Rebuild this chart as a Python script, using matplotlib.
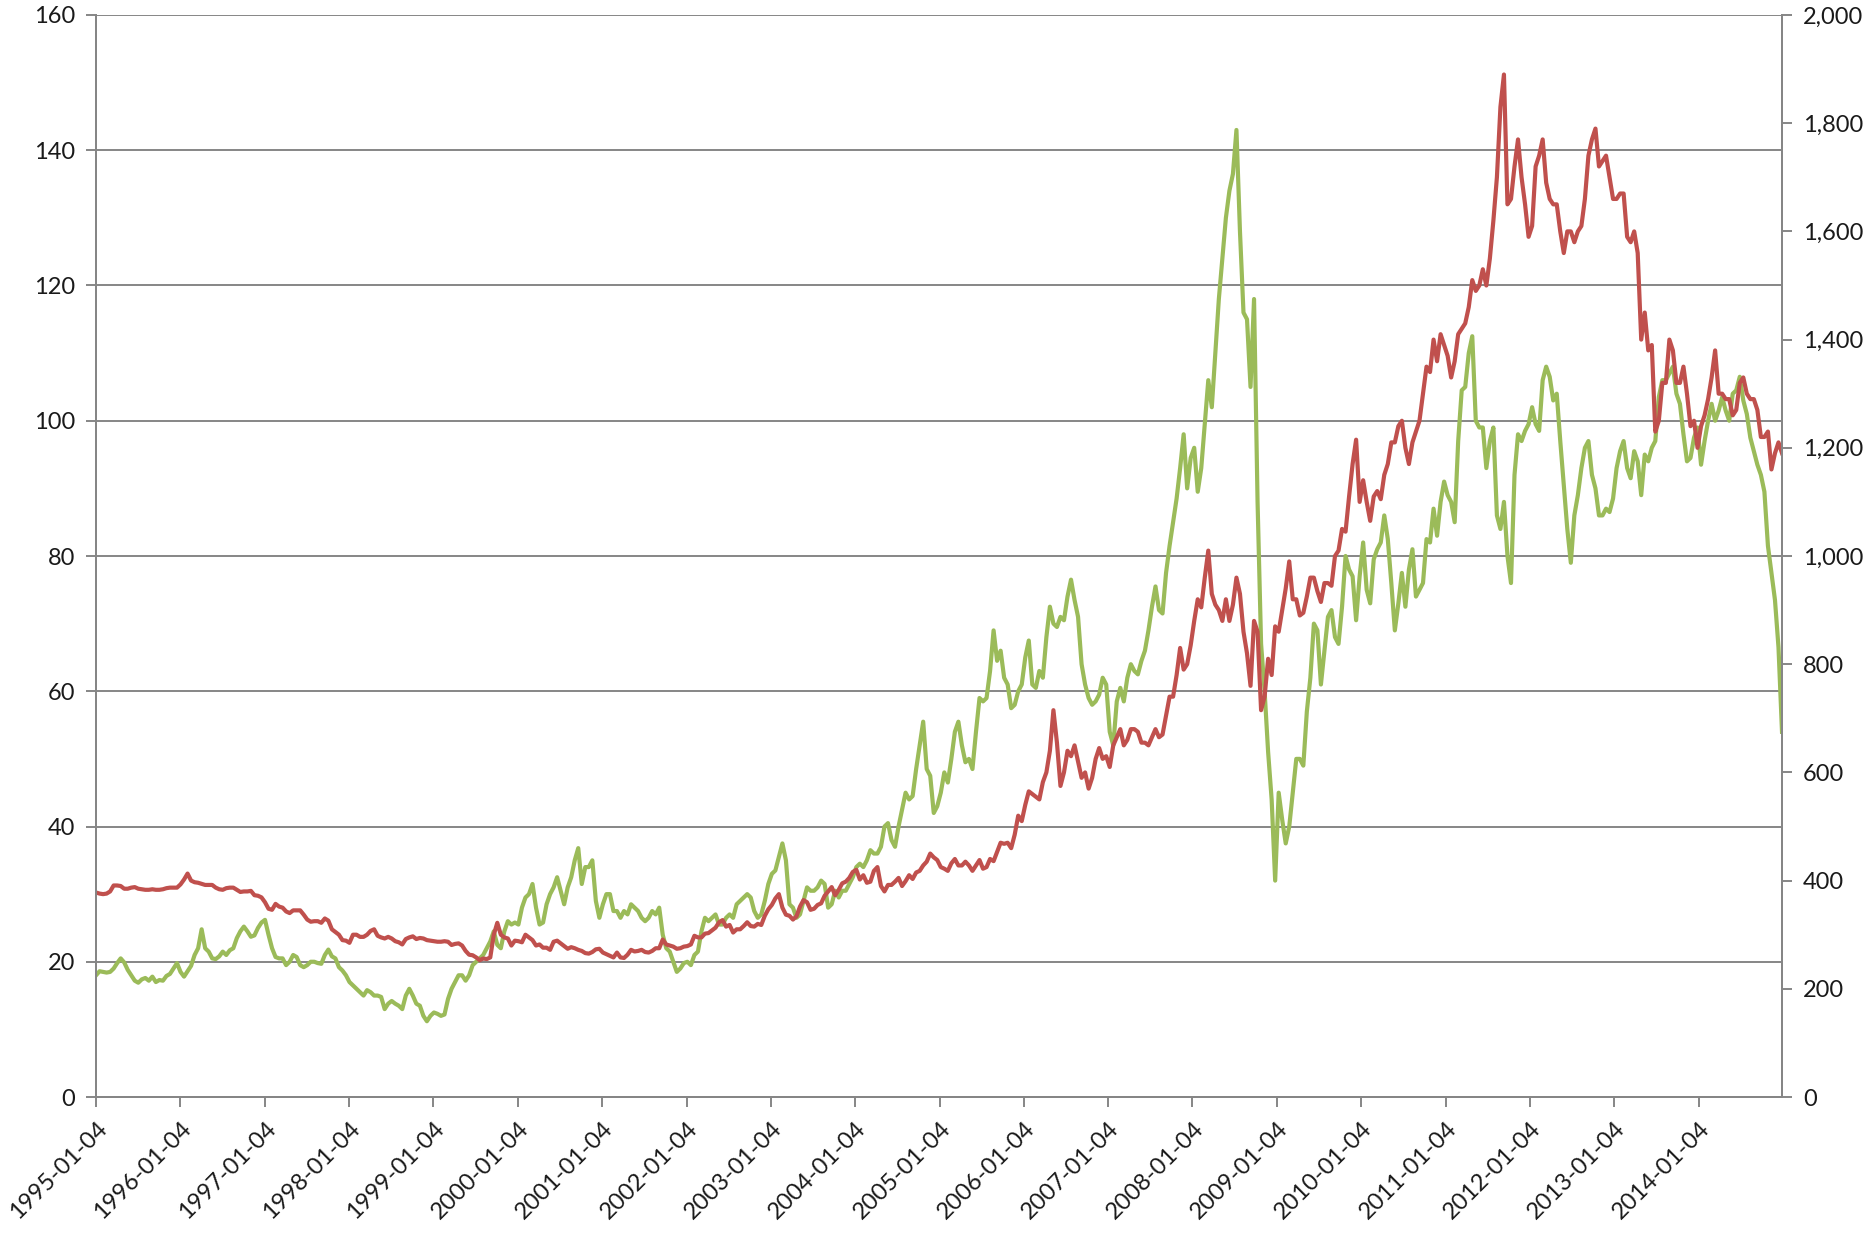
import matplotlib
matplotlib.use('Agg')
import matplotlib.pyplot as plt
import matplotlib.dates as mdates
from matplotlib.ticker import FuncFormatter, MultipleLocator
import pandas as pd

# ─── data (two readings per month, Jan 1995 .. Dec 2014) ─────────────────────

start_date = '1995-01-04'
end_date = '2014-12-31'

oil = [
    18.0, 18.6, 18.5, 18.4, 18.5, 19.0, 19.8, 20.5, 19.9, 18.8, 18.0, 17.2, 16.9, 17.4, 17.6, 17.2, 17.8, 17.0, 17.3, 17.2, 17.9, 18.2, 19.0, 19.8,
    18.5, 17.8, 18.6, 19.4, 21.0, 22.0, 24.8, 22.0, 21.5, 20.5, 20.4, 20.8, 21.5, 21.0, 21.7, 22.0, 23.5, 24.5, 25.2, 24.5, 23.7, 23.9, 25.0, 25.8,
    26.2, 24.0, 22.0, 20.7, 20.5, 20.5, 19.5, 20.0, 21.0, 20.7, 19.5, 19.2, 19.5, 20.0, 20.0, 19.8, 19.7, 21.0, 21.8, 20.8, 20.5, 19.2, 18.7, 18.0,
    17.0, 16.5, 16.0, 15.5, 15.0, 15.8, 15.5, 15.0, 15.0, 14.8, 13.0, 13.8, 14.2, 13.8, 13.5, 13.0, 15.0, 16.0, 15.0, 13.8, 13.5, 12.0, 11.2, 12.0,
    12.5, 12.3, 12.0, 12.2, 14.5, 16.0, 17.0, 18.0, 18.0, 17.2, 18.0, 19.5, 20.0, 20.5, 21.0, 22.0, 23.0, 24.5, 22.5, 22.0, 24.5, 26.0, 25.5, 25.8,
    25.5, 28.0, 29.5, 30.0, 31.5, 28.0, 25.5, 25.8, 28.5, 30.0, 31.0, 32.5, 30.5, 28.5, 31.0, 32.5, 35.0, 36.8, 31.5, 34.0, 34.0, 35.0, 29.0, 26.5,
    28.5, 30.0, 30.0, 27.5, 27.5, 26.5, 27.5, 27.0, 28.5, 28.0, 27.5, 26.5, 26.0, 26.5, 27.5, 27.0, 28.0, 24.0, 22.0, 21.5, 20.0, 18.5, 19.0, 19.8,
    20.0, 19.5, 21.0, 21.5, 24.5, 26.5, 26.0, 26.5, 27.0, 25.5, 25.5, 26.5, 27.0, 26.5, 28.5, 29.0, 29.5, 30.0, 29.5, 27.5, 26.5, 27.0, 29.0, 31.5,
    33.0, 33.5, 35.5, 37.5, 35.0, 28.5, 28.0, 26.5, 27.0, 29.0, 31.0, 30.5, 30.5, 31.0, 32.0, 31.5, 28.0, 28.5, 30.5, 29.5, 30.5, 30.5, 31.5, 32.5,
    34.0, 34.5, 34.0, 35.0, 36.5, 36.0, 36.0, 37.0, 40.0, 40.5, 38.0, 37.0, 40.0, 42.5, 45.0, 44.0, 44.5, 48.5, 52.0, 55.5, 48.5, 47.5, 42.0, 43.0,
    45.0, 48.0, 46.5, 50.0, 54.0, 55.5, 52.0, 49.5, 50.0, 48.5, 54.0, 59.0, 58.5, 59.0, 63.0, 69.0, 64.5, 66.0, 62.0, 61.0, 57.5, 58.0, 60.0, 61.0,
    65.0, 67.5, 61.0, 60.5, 63.0, 62.0, 68.0, 72.5, 70.0, 69.5, 71.0, 70.5, 74.0, 76.5, 73.5, 71.0, 64.0, 61.0, 59.0, 58.0, 58.5, 59.5, 62.0, 61.0,
    54.0, 52.0, 58.5, 60.5, 58.5, 62.0, 64.0, 63.0, 62.5, 64.5, 66.0, 69.0, 72.5, 75.5, 72.0, 71.5, 77.5, 81.5, 85.0, 88.5, 93.0, 98.0, 90.0, 94.5,
    96.0, 89.5, 93.0, 99.5, 106.0, 102.0, 110.0, 118.0, 124.0, 130.0, 134.0, 136.5, 143.0, 128.0, 116.0, 115.0, 105.0, 118.0, 88.0, 67.0, 60.0, 51.0, 44.0, 32.0,
    45.0, 41.0, 37.5, 40.0, 45.0, 50.0, 50.0, 49.0, 57.0, 62.0, 70.0, 69.0, 61.0, 66.0, 71.0, 72.0, 68.0, 67.0, 72.5, 80.0, 78.0, 77.0, 70.5, 77.0,
    82.0, 75.0, 73.0, 79.5, 81.0, 82.0, 86.0, 82.5, 76.0, 69.0, 73.0, 77.5, 72.5, 78.0, 81.0, 74.0, 75.0, 76.0, 82.5, 82.0, 87.0, 83.0, 88.0, 91.0,
    89.0, 88.0, 85.0, 97.0, 104.5, 105.0, 110.0, 112.5, 100.0, 99.0, 99.0, 93.0, 97.0, 99.0, 86.0, 84.0, 88.0, 80.0, 76.0, 92.0, 98.0, 97.0, 98.5, 99.5,
    102.0, 99.5, 98.5, 106.0, 108.0, 106.5, 103.0, 104.0, 97.0, 90.5, 84.0, 79.0, 86.0, 89.0, 93.0, 96.0, 97.0, 92.0, 90.0, 86.0, 86.0, 87.0, 86.5, 88.5,
    93.0, 95.5, 97.0, 93.0, 91.5, 95.5, 94.0, 89.0, 95.0, 94.0, 96.0, 97.0, 103.5, 106.0, 106.0, 107.0, 108.0, 104.0, 102.5, 98.0, 94.0, 94.5, 97.5, 99.0,
    93.5, 97.0, 100.0, 102.5, 100.0, 101.5, 103.5, 101.5, 100.0, 104.0, 104.5, 106.5, 103.0, 101.0, 97.5, 95.5, 93.5, 92.0, 89.5, 81.5, 77.5, 73.5, 66.5, 54.0,
]

gold = [
    378, 376, 375, 376, 380, 391, 391, 390, 385, 385, 387, 388, 385, 384, 383, 383, 384, 383, 383, 384, 386, 387, 387, 387,
    393, 402, 413, 400, 397, 396, 394, 392, 392, 392, 387, 384, 383, 386, 387, 387, 383, 379, 380, 380, 381, 373, 372, 369,
    360, 348, 346, 357, 352, 350, 343, 340, 345, 345, 345, 337, 328, 324, 325, 325, 322, 330, 326, 310, 305, 300, 290, 289,
    285, 300, 300, 296, 296, 300, 307, 310, 298, 295, 293, 296, 293, 288, 286, 282, 292, 295, 297, 292, 294, 293, 290, 289,
    288, 287, 287, 288, 287, 281, 283, 284, 280, 270, 263, 262, 258, 253, 256, 255, 258, 300, 322, 300, 295, 293, 280, 289,
    288, 286, 300, 295, 290, 280, 282, 276, 276, 272, 287, 289, 284, 279, 274, 277, 275, 272, 270, 266, 265, 268, 273, 274,
    267, 264, 261, 258, 267, 258, 257, 263, 272, 269, 270, 272, 268, 267, 270, 275, 275, 291, 282, 280, 278, 274, 275, 278,
    279, 282, 298, 295, 295, 302, 303, 308, 313, 323, 327, 315, 318, 304, 310, 310, 316, 323, 316, 315, 320, 318, 335, 347,
    355, 367, 375, 350, 337, 335, 328, 334, 352, 364, 360, 346, 348, 355, 358, 372, 380, 388, 373, 383, 395, 398, 405, 416,
    420, 402, 410, 396, 398, 418, 425, 390, 380, 392, 392, 398, 405, 390, 399, 410, 403, 415, 418, 428, 435, 450, 443, 438,
    425, 422, 418, 432, 440, 428, 428, 435, 428, 418, 428, 438, 422, 425, 440, 436, 453, 470, 468, 470, 460, 485, 520, 510,
    540, 565, 560, 555, 550, 582, 600, 640, 715, 655, 575, 600, 640, 630, 650, 620, 590, 600, 570, 590, 625, 645, 625, 630,
    610, 650, 665, 680, 650, 660, 680, 680, 675, 655, 655, 650, 665, 680, 665, 670, 705, 740, 740, 780, 830, 790, 800, 835,
    880, 920, 905, 960, 1010, 930, 910, 900, 880, 920, 880, 910, 960, 930, 860, 820, 760, 880, 860, 715, 740, 810, 780, 870,
    860, 900, 940, 990, 920, 920, 890, 895, 925, 960, 960, 935, 915, 950, 950, 945, 1000, 1010, 1050, 1045, 1110, 1170, 1215, 1100,
    1140, 1100, 1065, 1110, 1120, 1105, 1150, 1170, 1210, 1210, 1240, 1250, 1200, 1170, 1210, 1230, 1250, 1300, 1350, 1340, 1400, 1360, 1410, 1390,
    1370, 1330, 1360, 1410, 1420, 1430, 1460, 1510, 1490, 1500, 1530, 1500, 1550, 1620, 1700, 1830, 1890, 1650, 1660, 1720, 1770, 1700, 1650, 1590,
    1610, 1720, 1740, 1770, 1690, 1660, 1650, 1650, 1600, 1560, 1600, 1600, 1580, 1600, 1610, 1660, 1740, 1770, 1790, 1720, 1730, 1740, 1700, 1660,
    1660, 1670, 1670, 1590, 1580, 1600, 1560, 1400, 1450, 1380, 1390, 1230, 1250, 1320, 1320, 1400, 1380, 1320, 1320, 1350, 1300, 1240, 1250, 1200,
    1240, 1260, 1290, 1330, 1380, 1300, 1300, 1290, 1290, 1260, 1270, 1320, 1330, 1300, 1290, 1290, 1270, 1220, 1220, 1230, 1160, 1190, 1210, 1190,
]

year_ticks = [f'{y}-01-04' for y in range(1995, 2015)]

# ─── chart ──────────────────────────────────────────────────────────────────

OIL_COLOR = '#9BBB59'
GOLD_COLOR = '#C0504D'
AXIS_GRAY = '#868686'
TEXT_COLOR = '#1a1a1a'

plt.rcParams['font.family'] = ['Lato', 'DejaVu Sans']

dates = pd.date_range(start_date, end_date, periods=len(oil))

fig = plt.figure(figsize=(18.65, 12.39), dpi=100)
ax = fig.add_axes([0.0515, 0.1146, 0.9040, 0.8733])
ax2 = ax.twinx()

ax.plot(dates, oil, color=OIL_COLOR, linewidth=3.0, solid_joinstyle='round')
ax2.plot(dates, gold, color=GOLD_COLOR, linewidth=3.0, solid_joinstyle='round')

ax.set_xlim(pd.Timestamp(start_date), pd.Timestamp(end_date))
ax.set_ylim(0, 160)
ax2.set_ylim(0, 2000)

ax.yaxis.set_major_locator(MultipleLocator(20))
ax2.yaxis.set_major_locator(MultipleLocator(200))
ax2.yaxis.set_major_formatter(FuncFormatter(lambda v, _: f'{v:,.0f}'))

ax.set_xticks([pd.Timestamp(t) for t in year_ticks])
ax.xaxis.set_major_formatter(mdates.DateFormatter('%Y-%m-%d'))
for lbl in ax.get_xticklabels():
    lbl.set_rotation(45)
    lbl.set_ha('right')
    lbl.set_va('top')
    lbl.set_rotation_mode('anchor')

ax.grid(axis='y', color=AXIS_GRAY, linewidth=1.4)
ax.set_axisbelow(True)

for a in (ax, ax2):
    for side in ('left', 'right', 'bottom'):
        a.spines[side].set_color(AXIS_GRAY)
        a.spines[side].set_linewidth(1.4)
    a.spines['top'].set_visible(False)
    a.tick_params(colors=AXIS_GRAY, labelcolor=TEXT_COLOR, labelsize=17,
                  length=7, width=1.4, direction='out', pad=8)

plt.savefig('out.png', dpi=100)
